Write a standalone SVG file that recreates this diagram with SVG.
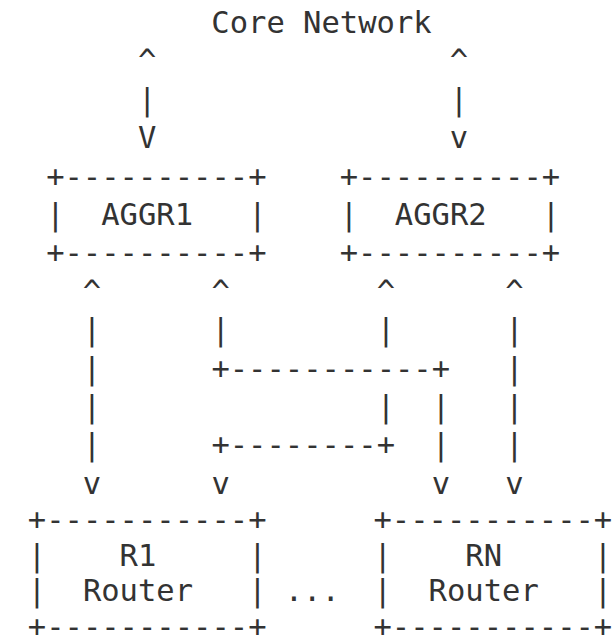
<svg xmlns="http://www.w3.org/2000/svg" width="613" height="644" viewBox="0 0 613 644" xml:space="preserve">
<style>
text { font-family: "DejaVu Sans Mono", "Liberation Mono", monospace; font-size: 30.5px; fill: #333333; white-space: pre; }
</style>
<rect x="0" y="0" width="613" height="644" fill="#ffffff"/>
<g id="core-network">
<text x="211.3" y="33">Core Network</text>
</g>
<g id="aggr1">
<text x="46.15" y="186.6">+----------+</text>
<text x="46.15" y="225">|  AGGR1   |</text>
<text x="46.15" y="263.4">+----------+</text>
</g>
<g id="aggr2">
<text x="339.75" y="186.6">+----------+</text>
<text x="339.75" y="225">|  AGGR2   |</text>
<text x="339.75" y="263.4">+----------+</text>
</g>
<g id="r1">
<text x="27.8" y="530">+-----------+</text>
<text x="27.8" y="565.5">|    R1     |</text>
<text x="27.8" y="601">|  Router   |</text>
<text x="27.8" y="636.5">+-----------+</text>
</g>
<g id="rn">
<text x="373.5" y="530">+-----------+</text>
<text x="373.5" y="565.5">|    RN     |</text>
<text x="373.5" y="601">|  Router   |</text>
<text x="373.5" y="636.5">+-----------+</text>
</g>
<g id="ellipsis">
<text x="284.7" y="601">...</text>
</g>
<g id="connectors">
<text x="137.9" y="71.4">^</text>
<text x="137.9" y="109.8">|</text>
<text x="137.9" y="148.2">V</text>
<text x="449.85" y="71.4">^</text>
<text x="449.85" y="109.8">|</text>
<text x="449.85" y="148.2">v</text>
<text x="82.85" y="301.8">^      ^        ^      ^</text>
<text x="82.85" y="340.2">|      |        |      |</text>
<text x="82.85" y="378.6">|      +-----------+   |</text>
<text x="82.85" y="417">|               |  |   |</text>
<text x="82.85" y="455.4">|      +--------+  |   |</text>
<text x="82.85" y="493.8">v      v           v   v</text>
</g>
</svg>
